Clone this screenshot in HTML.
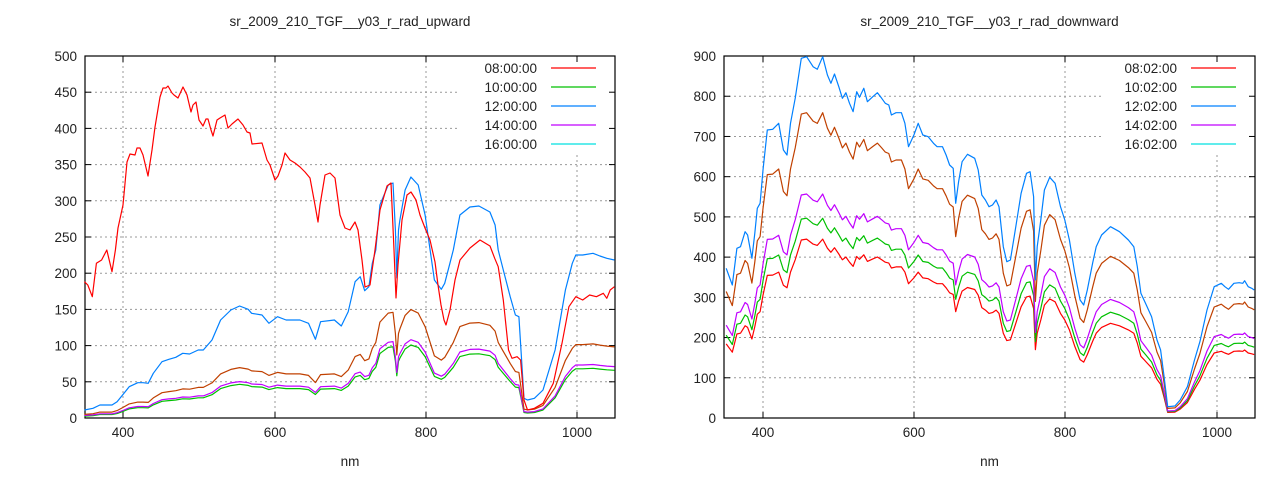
<!DOCTYPE html>
<html><head><meta charset="utf-8"><style>
body{margin:0;background:#fff}
svg{display:block}
text{font-family:"Liberation Sans",sans-serif;font-size:13.5px;fill:#222}
</style></head><body>
<svg id="s" width="1280" height="480" xmlns="http://www.w3.org/2000/svg"></svg>
<script>
const S=document.getElementById('s');let h='';
function line(x1,y1,x2,y2,st){h+=`<line x1="${x1}" y1="${y1}" x2="${x2}" y2="${y2}" ${st}/>`;}
function txt(x,y,t,a){h+=`<text x="${x}" y="${y}" text-anchor="${a||'middle'}">${t}</text>`;}
function pl(pts,c){h+=`<polyline fill="none" stroke="${c}" stroke-width="1.2" stroke-linejoin="round" points="${pts.map(p=>p[0].toFixed(1)+','+p[1].toFixed(1)).join(' ')}"/>`;}
const GR='stroke="#999" stroke-width="1" stroke-dasharray="2,3"';
function frame(L,R,T,B,xt,yt,leg,title,labs){
 yt.forEach(([y,l])=>{txt(L-8,y+5,l,'end');if(y>T+1&&y<B-1){let xe=(y<leg.bot)?leg.x:R;line(L,y,xe,y,GR);}
  line(L,y,L+6,y,'stroke="#000"');line(R-6,y,R,y,'stroke="#000"');});
 xt.forEach(([x,l])=>{txt(x,437,l);let ys=leg.x<x?leg.bot:T;line(x,ys,x,B,GR);line(x,B,x,B-6,'stroke="#000"');line(x,T,x,T+6,'stroke="#000"');});
 h+=`<rect x="${L}" y="${T}" width="${R-L}" height="${B-T}" fill="none" stroke="#000" stroke-width="1.2"/>`;
 txt((L+R)/2,26,title);txt((L+R)/2,466,'nm');
 const cols=['#ff0000','#00c000','#0080ff','#c000ff','#00e0e0'];
 labs.forEach((l,i)=>{let y=68+i*19;txt(R-78,y+5,l,'end');line(R-64,y,R-19,y,`stroke="${cols[i]}" stroke-width="1.2"`);});
}
const LB=418;
let yl=[];for(let v=0;v<=500;v+=50)yl.push([LB-v*0.724,v]);
frame(85,615,56,418,[[123,400],[275,600],[426,800],[577,1000]],yl,{x:460,bot:155},'sr_2009_210_TGF__y03_r_rad_upward',['08:00:00','10:00:00','12:00:00','14:00:00','16:00:00']);
function z2(a){return a.map(p=>[123+(p[0]-127)/2.9,250+p[1]/3]);}
const blueL=z2([[15,480],[40,475],[60,465],[95,465],[110,455],[130,430],[145,410],[170,398],[185,398],[200,400],[215,370],[240,335],[260,328],[280,322],[300,310],[320,312],[345,300],[360,300],[385,270],[410,210],[440,180],[465,168],[490,178],[500,190],[530,195],[550,220],[575,200],[600,210],[640,210],[665,220],[685,268],[700,215],[740,210],[760,228],[780,185],[800,95],[815,80],[828,122],[840,110],[850,40],[860,0],[872,-135],[896,-195],[910,-201],[917,-60],[921,84],[926,-60],[930,-90],[945,-180],[962,-219],[983,-195],[1003,-105],[1030,90],[1050,118],[1060,100],[1075,40],[1085,0],[1104,-105],[1133,-129],[1159,-132],[1191,-114],[1206,-75],[1215,0],[1230,60],[1250,140],[1265,195],[1275,200],[1290,445],[1300,450],[1320,445],[1345,420],[1380,300],[1410,120],[1430,40],[1440,15],[1460,15],[1490,10],[1510,18],[1530,25],[1552,30]]);
const sc=(a,k,B)=>a.map(p=>[p[0],B-(B-p[1])*k]);
pl(sc(blueL,0.305,LB).map(p=>[p[0],p[1]+0.5]),'#00c000');
pl(sc(blueL,0.325,LB),'#c000ff');
pl(sc(blueL,0.45,LB),'#c04000');
pl(blueL,'#0080ff');
const redL=z2([[15,95],[25,105],[38,140],[50,40],[65,30],[80,0],[95,65],[105,0]]).concat([[118,228],[123,205],[127,162],[130,154],[135,155],[137,148],[140,148],[143,155],[148,176],[152,150],[155,127],[160,97],[163,88],[166,88],[168,86],[172,93],[174,95],[178,98],[183,87],[187,95],[191,112],[193,105],[196,102],[199,120],[203,126],[206,119],[208,119],[211,130],[213,136],[217,120],[220,118],[225,115],[228,128],[232,124],[238,119],[243,125],[247,132],[250,133],[252,144],[262,143],[267,160],[270,165],[275,180],[278,176],[282,165],[285,153],[290,160],[295,163],[300,167],[305,172],[310,178],[315,205],[318,222],[320,205],[325,175],[330,173],[335,178],[340,215],[345,228],[350,230],[355,222],[358,230],[362,260],[365,287],[370,285],[375,250],[380,210],[387,186],[391,183],[394,250],[396,298],[398,265],[402,220],[407,195],[411,192],[416,200],[420,215],[425,228],[430,240],[435,262],[438,285],[441,305],[444,320],[446,325],[450,310],[455,280],[460,260],[470,248],[480,240],[490,246]]).concat(z2([[1205,25],[1215,50],[1230,150],[1245,300],[1255,325],[1270,320],[1280,330],[1290,450],[1300,480],[1320,475],[1345,460],[1375,400],[1400,280],[1420,170],[1440,140],[1460,150],[1480,135],[1500,140],[1520,130],[1530,145],[1540,120],[1552,110]]));
pl(redL,'#ff0000');
const RB=418;
let yr=[];for(let v=0;v<=900;v+=100)yr.push([RB-v*0.4022,v]);
frame(724,1255,56,418,[[763,400],[914,600],[1065,800],[1217,1000]],yr,{x:1102,bot:155},'sr_2009_210_TGF__y03_r_rad_downward',['08:02:00','10:02:00','12:02:00','14:02:00','16:02:00']);
const z3=a=>a.map(p=>[763+(p[0]-178)/2.797,40+p[1]/3]);
const blueR=z3([[75,685],[92,735],[105,625],[115,620],[128,575],[135,585],[147,655],[155,580],[162,505],[170,490],[178,390],[190,270],[205,268],[222,250],[235,330],[245,345],[255,250],[268,175],[285,55],[300,50],[318,80],[330,88],[345,50],[358,105],[368,130],[378,102],[390,140],[400,175],[410,158],[420,190],[430,215],[440,155],[448,172],[460,145],[470,185],[485,170],[498,158],[510,175],[520,190],[530,195],[537,225],[550,218],[565,218],[575,250],[585,320],[600,285],[612,250],[625,285],[640,290],[655,310],[665,320],[680,320],[690,345],[700,375],[710,385],[717,490],[725,425],[735,365],[750,343],[770,355],[780,390],[790,465],[800,480],[810,500],[820,495],[830,480],[838,500],[850,620],[860,665],[870,660],[885,560],[900,460],[915,400],[925,395],[935,470],[940,720],[945,620],[955,540],[965,450],[980,412],[995,430],[1010,500],[1022,540],[1035,600],[1050,700],[1065,780],[1075,795],[1085,750],[1100,670],[1110,620],[1125,585],[1150,560],[1175,575],[1200,600],[1215,620],[1225,680],[1235,760],[1250,795],[1265,830],[1280,900],[1290,930],[1300,1010],[1310,1100],[1330,1098],[1345,1080],[1365,1040],[1385,960],[1400,905],[1420,810],[1440,740],[1460,730],[1470,740],[1480,748],[1495,730],[1510,728],[1520,730],[1525,722],[1535,740],[1545,745],[1552,750]]);
pl(sc(blueR,0.495,RB),'#ff0000');
pl(sc(blueR,0.553,RB),'#00c000');
pl(sc(blueR,0.62,RB),'#c000ff');
pl(sc(blueR,0.845,RB),'#c04000');
pl(blueR,'#0080ff');
S.innerHTML=h;
</script>
</body></html>
